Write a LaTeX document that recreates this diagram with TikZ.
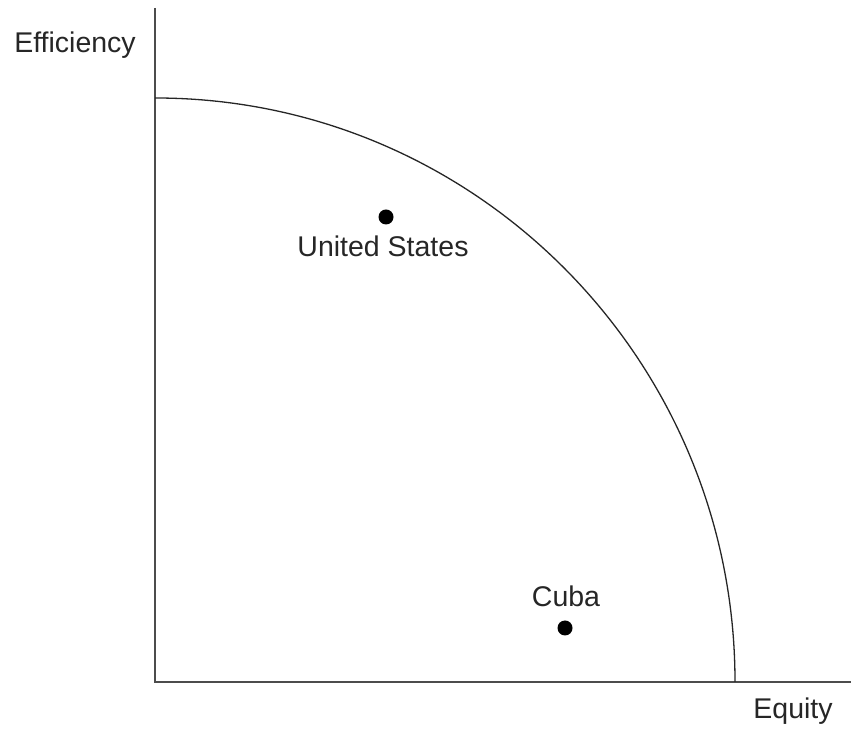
\documentclass[tikz,border=0pt]{standalone}
\usepackage{fontspec}
\setmainfont{Liberation Sans}
\begin{document}
\begin{tikzpicture}[x=1pt,y=1pt,
  axisline/.style={line width=1.5pt,black!70},
  frontier/.style={line width=1.3pt,black!85},
  pointdot/.style={circle,fill=black,inner sep=0pt,minimum size=15pt},
  lbl/.style={font=\fontsize{28.5}{34}\selectfont,text=black!85,inner sep=0pt,anchor=base}]
\useasboundingbox (0,0) rectangle (851,730);
\coordinate (origin) at (155,48);
\coordinate (ytop) at (155,722);
\coordinate (xend) at (851,48);
\coordinate (fstart) at (155,632);
\draw[axisline] (ytop) -- (origin) -- (xend);
\draw[frontier] (fstart) arc[start angle=90,end angle=0,x radius=580,y radius=584];
\node[lbl] (eff) at (75,677) {Efficiency};
\node[lbl] (eq) at (793,11) {Equity};
\node[pointdot] (us) at (386,513) {};
\node[lbl] (uslbl) at (383,473) {United States};
\node[pointdot] (cuba) at (565,102) {};
\node[lbl] (cubalbl) at (566,123) {Cuba};
\end{tikzpicture}
\end{document}
